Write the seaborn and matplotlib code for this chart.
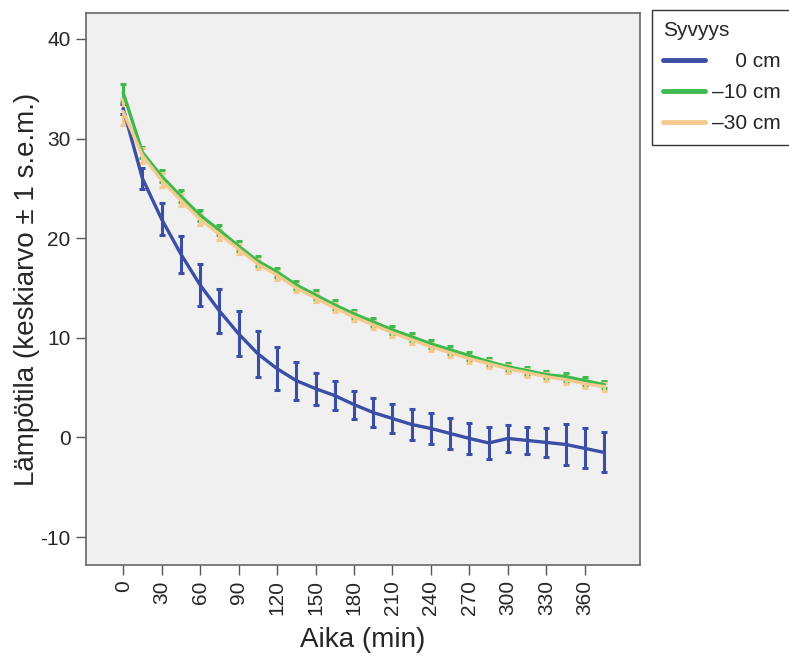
import numpy as np
import pandas as pd
import matplotlib
matplotlib.use("Agg")
import matplotlib.pyplot as plt
import seaborn as sns
from matplotlib.lines import Line2D

times = [0, 15, 30, 45, 60, 75, 90, 105, 120, 135, 150, 165, 180, 195, 210,
         225, 240, 255, 270, 285, 300, 315, 330, 345, 360, 375]

blue_mean = [33.0, 26.0, 21.9, 18.4, 15.3, 12.7, 10.4, 8.4, 6.9, 5.7, 4.9, 4.2, 3.3,
             2.5, 1.9, 1.3, 0.9, 0.4, -0.1, -0.55, -0.1, -0.3, -0.5, -0.7, -1.1, -1.5]
blue_se = [0.5, 1.05, 1.6, 1.85, 2.15, 2.25, 2.25, 2.3, 2.15, 1.9, 1.6, 1.45, 1.4,
           1.5, 1.5, 1.6, 1.6, 1.6, 1.6, 1.65, 1.4, 1.4, 1.45, 2.05, 2.0, 2.0]
green_mean = [34.6, 28.6, 26.2, 24.2, 22.3, 20.8, 19.2, 17.7, 16.6, 15.3, 14.3, 13.3, 12.4,
              11.6, 10.8, 10.1, 9.4, 8.8, 8.2, 7.6, 7.1, 6.7, 6.3, 6.1, 5.7, 5.3]
green_se = [0.9, 0.6, 0.6, 0.6, 0.55, 0.5, 0.5, 0.5, 0.45, 0.45, 0.45, 0.45, 0.4,
            0.4, 0.4, 0.4, 0.4, 0.4, 0.4, 0.4, 0.4, 0.4, 0.35, 0.4, 0.4, 0.35]
tan_mean = [32.7, 28.3, 25.8, 23.8, 21.9, 20.4, 18.9, 17.4, 16.3, 15.0, 14.0, 13.0, 12.1,
            11.3, 10.5, 9.8, 9.1, 8.5, 7.9, 7.4, 6.9, 6.5, 6.1, 5.8, 5.4, 5.1]
tan_se = [1.3, 0.8, 0.7, 0.6, 0.55, 0.55, 0.5, 0.5, 0.45, 0.45, 0.45, 0.45, 0.45,
          0.4, 0.4, 0.4, 0.4, 0.4, 0.4, 0.4, 0.4, 0.4, 0.4, 0.4, 0.4, 0.4]

series_labels = ["\u2007\u20070 cm", "\u201310 cm", "\u201330 cm"]
colors = ["#3a4ea6", "#3dba4b", "#f5ca8e"]
legend_title = "Syvyys"
x_ticks = [0, 30, 60, 90, 120, 150, 180, 210, 240, 270, 300, 330, 360]
y_ticks = [-10, 0, 10, 20, 30, 40]

sns.set_theme(style="white")
plt.rcParams["font.family"] = ["Liberation Sans", "DejaVu Sans"]
plt.rcParams["axes.unicode_minus"] = False

rows = []
for lab, m, s in zip(series_labels, [blue_mean, green_mean, tan_mean],
                     [blue_se, green_se, tan_se]):
    for t, mv, sv in zip(times, m, s):
        rows.append({"Aika": t, "Temp": mv, "se": sv, "Syvyys": lab})
df = pd.DataFrame(rows)

fig = plt.figure(figsize=(7.89, 6.57), dpi=100)
ax = fig.add_axes([86 / 789, 1 - 565 / 657, (640 - 86) / 789, (565 - 13) / 657])
ax.set_facecolor("#f0f0f0")

for lab, col in zip(series_labels, colors):
    sub = df[df["Syvyys"] == lab]
    ax.errorbar(sub["Aika"], sub["Temp"], yerr=sub["se"], fmt="none",
                ecolor=col, elinewidth=2.2, capsize=2.5, capthick=2.2, zorder=3)

sns.lineplot(data=df, x="Aika", y="Temp", hue="Syvyys", palette=colors,
             hue_order=series_labels, linewidth=2.4, ax=ax, errorbar=None,
             zorder=4, legend=False)

ax.set_xlim(-29, 403)
ax.set_ylim(-12.8, 42.6)
ax.set_xticks(x_ticks)
ax.set_xticklabels([str(v) for v in x_ticks], rotation=90, fontsize=15)
ax.set_yticks(y_ticks)
ax.set_yticklabels([str(v) for v in y_ticks], fontsize=15)
ax.tick_params(axis="both", direction="out", length=7, width=1, color="#555555",
               bottom=True, left=True, pad=4)
for sp in ax.spines.values():
    sp.set_color("#666666")
    sp.set_linewidth(1.2)

ax.set_xlabel("Aika (min)", fontsize=20, labelpad=8)
ax.set_ylabel("Lämpötila (keskiarvo ± 1 s.e.m.)", fontsize=20, labelpad=0)

handles = [Line2D([0], [0], color=c, lw=3.5) for c in colors]
leg = fig.legend(handles, series_labels, title=legend_title, loc="upper left",
                 bbox_to_anchor=(652 / 789, 1 - 10 / 657), borderaxespad=0,
                 fontsize=15, title_fontsize=15, frameon=True, fancybox=False,
                 handlelength=2.0, handletextpad=0.35, borderpad=0.55,
                 labelspacing=0.57, edgecolor="black")
leg._legend_box.align = "left"
leg.get_frame().set_linewidth(1.0)

fig.savefig("out.png", dpi=100)
